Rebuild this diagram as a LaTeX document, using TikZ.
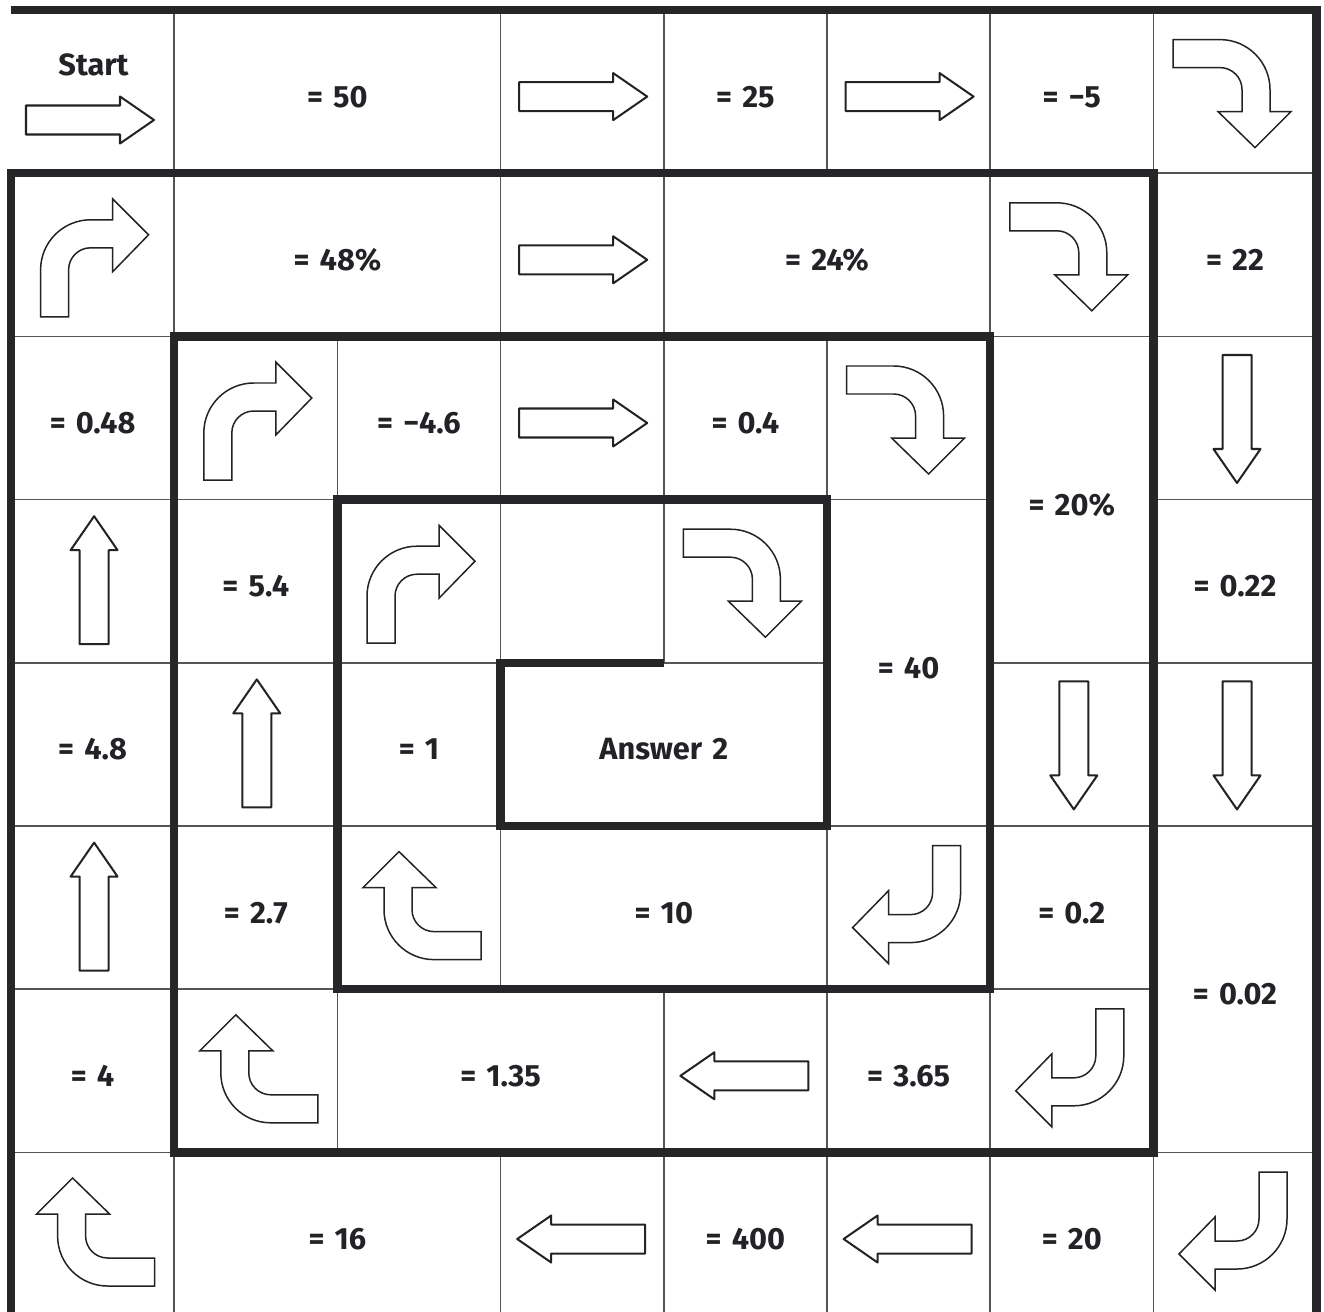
\documentclass[tikz,border=0pt]{standalone}
\usepackage{fontspec}
\setmainfont{Fira Sans}
\definecolor{ink}{HTML}{232226}
\definecolor{wall}{HTML}{262528}
\definecolor{gridc}{HTML}{555555}
\newcommand\mylblfont{\fontsize{17.5}{20}\selectfont\bfseries\spaceskip=0.33em\relax}
\tikzset{
  thingrid/.style={draw=gridc,line width=0.9pt},
  thickwall/.style={draw=wall,line width=4.7pt,line join=miter,line cap=butt},
  lbl/.style={font={\mylblfont},text=ink,anchor=base,inner sep=0pt},
  sline/.style={draw=ink,fill=white,line width=1.15pt,line join=round},
  cline/.style={draw=ink,fill=white,line width=0.85pt,line join=miter},
  sarrow/.pic={\path[sline] (-63,-14.5) -- (31,-14.5) -- (31,-23.5) -- (65,0) -- (31,23.5) -- (31,14.5) -- (-63,14.5) -- cycle;},
  carrow/.pic={\path[cline] (-52,62) -- (-24,62) -- (-24,15) .. controls (-24,2.85) and (-14.15,-7) .. (-2,-7) -- (20,-7) -- (20,17) -- (56,-20) -- (20,-56) -- (20,-35) -- (-2,-35) .. controls (-29.6,-35) and (-52,-12.6) .. (-52,15) -- cycle;}
}
\begin{document}
\begin{tikzpicture}[x=0.02cm,y=-0.02cm]
\useasboundingbox (0,0) rectangle (1324,1311);
\clip (0,0) rectangle (1324,1311);
\fill[white] (0,0) rectangle (1324,1311);
% grid points
\foreach \i in {0,...,8}{\foreach \j in {0,...,8}{\coordinate (g-\i-\j) at ({11+\i*163.2},{10+\j*163.2});}}
% thin vertical lines, per row
\foreach \r/\cols in {0/{1,3,4,5,6,7},1/{1,3,4,6,7},2/{1,2,3,4,5,6,7},3/{1,2,3,4,5,6,7},4/{1,2,3,5,6,7},5/{1,2,3,5,6,7},6/{1,2,4,5,6,7},7/{1,3,4,5,6,7}}{
  \pgfmathtruncatemacro\rn{\r+1}
  \foreach \c in \cols {\draw[thingrid] (g-\c-\r) -- (g-\c-\rn);}
}
% thin horizontal lines, per boundary
\foreach \j/\cols in {1/{0,1,2,3,4,5,6,7},2/{0,1,2,3,4,5,6,7},3/{0,1,2,3,4,5,7},4/{0,1,2,3,4,6,7},5/{0,1,2,3,4,5,6,7},6/{0,1,2,3,4,5,6},7/{0,1,2,3,4,5,6,7}}{
  \foreach \c in \cols {\pgfmathtruncatemacro\cn{\c+1}\draw[thingrid] (g-\c-\j) -- (g-\cn-\j);}
}
% thick walls
\draw[thickwall] (g-0-0) -- (g-8-0) -- (g-8-8);
\draw[thickwall] (g-0-8) -- (g-0-1) -- (g-7-1) -- (g-7-7) -- (g-1-7) -- (g-1-2) -- (g-6-2) -- (g-6-6) -- (g-2-6) -- (g-2-3) -- (g-5-3) -- (g-5-5) -- (g-3-5) -- (g-3-4) -- (g-4-4);
% labels
\node[lbl] (start) at (93.5,76) {Start};
\node[lbl] (v50) at (337.4,107.1) {= 50};
\node[lbl] (v25) at (745.4,107.1) {= 25};
\node[lbl] (vm5) at (1071.8,107.1) {= −5};
\node[lbl] (v48p) at (337.4,270.3) {= 48\%};
\node[lbl] (v24p) at (827.0,270.3) {= 24\%};
\node[lbl] (v22) at (1235.0,270.3) {= 22};
\node[lbl] (v048) at (92.6,433.5) {= 0.48};
\node[lbl] (vm46) at (419.0,433.5) {= −4.6};
\node[lbl] (v04) at (745.4,433.5) {= 0.4};
\node[lbl] (v20p) at (1071.8,515.1) {= 20\%};
\node[lbl] (v54) at (255.8,596.7) {= 5.4};
\node[lbl] (v022) at (1235.0,596.7) {= 0.22};
\node[lbl] (v40) at (908.6,678.3) {= 40};
\node[lbl] (v48) at (92.6,759.9) {= 4.8};
\node[lbl] (v1) at (419.0,759.9) {= 1};
\node[lbl] (ans) at (663.8,759.9) {Answer 2};
\node[lbl] (v27) at (255.8,923.1) {= 2.7};
\node[lbl] (v10) at (663.8,923.1) {= 10};
\node[lbl] (v02) at (1071.8,923.1) {= 0.2};
\node[lbl] (v002) at (1235.0,1004.7) {= 0.02};
\node[lbl] (v4) at (92.6,1086.3) {= 4};
\node[lbl] (v135) at (500.6,1086.3) {= 1.35};
\node[lbl] (v365) at (908.6,1086.3) {= 3.65};
\node[lbl] (v16) at (337.4,1249.5) {= 16};
\node[lbl] (v400) at (745.4,1249.5) {= 400};
\node[lbl] (v20) at (1071.8,1249.5) {= 20};
% straight arrows
\pic at (89,120) {sarrow};
\pic at (582.2,96.6) {sarrow};
\pic at (908.6,96.6) {sarrow};
\pic at (582.2,259.8) {sarrow};
\pic at (582.2,423) {sarrow};
\pic[rotate=180] at (745.4,1075.8) {sarrow};
\pic[rotate=180] at (582.2,1239) {sarrow};
\pic[rotate=180] at (908.6,1239) {sarrow};
\pic[rotate=-90] at (1237,418) {sarrow};
\pic[rotate=-90] at (1073.8,744.4) {sarrow};
\pic[rotate=-90] at (1237,744.4) {sarrow};
\pic[rotate=90] at (94.1,581.2) {sarrow};
\pic[rotate=90] at (256.8,744.4) {sarrow};
\pic[rotate=90] at (94.1,907.6) {sarrow};
% curved arrows
\pic at (92.6,254.8) {carrow};
\pic at (255.8,418) {carrow};
\pic at (419,581.2) {carrow};
\pic[rotate=-90] at (1235,91.6) {carrow};
\pic[rotate=-90] at (1071.8,254.8) {carrow};
\pic[rotate=-90] at (908.6,418) {carrow};
\pic[rotate=-90] at (745.4,581.2) {carrow};
\pic[rotate=180] at (908.6,907.6) {carrow};
\pic[rotate=180] at (1071.8,1070.8) {carrow};
\pic[rotate=180] at (1235,1234) {carrow};
\pic[rotate=90] at (419,907.6) {carrow};
\pic[rotate=90] at (255.8,1070.8) {carrow};
\pic[rotate=90] at (92.6,1234) {carrow};
\end{tikzpicture}
\end{document}
